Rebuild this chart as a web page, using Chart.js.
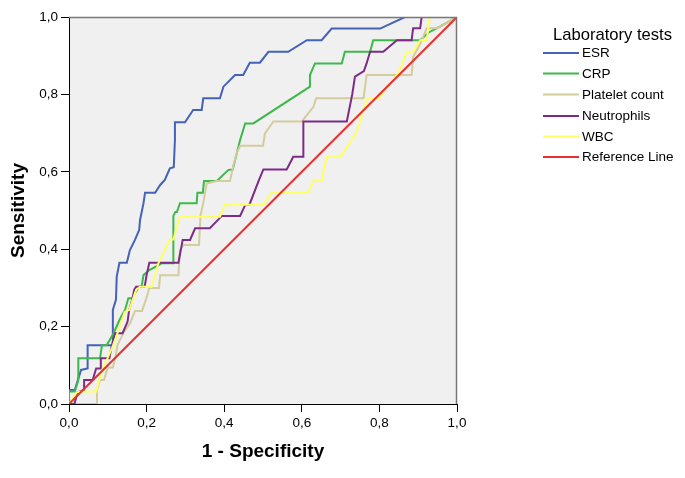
<!DOCTYPE html>
<html>
<head>
<meta charset="utf-8">
<script src="https://cdn.jsdelivr.net/npm/chart.js@4/dist/chart.umd.min.js"></script>
<style>
html,body{margin:0;padding:0;background:#fff;}
#wrap{position:relative;width:685px;height:478px;}
</style>
</head>
<body>
<div id="wrap"><canvas id="c" width="685" height="478"></canvas></div>
<script>
// ---- data (1 - specificity, sensitivity) ----
const esrX = [0,0,0.015,0.031,0.048,0.048,0.113,0.113,0.121,0.123,0.130,0.149,0.157,0.170,0.181,0.183,0.192,0.196,0.222,0.235,0.247,0.260,0.270,0.273,0.273,0.299,0.320,0.342,0.346,0.389,0.398,0.428,0.449,0.466,0.492,0.514,0.565,0.613,0.651,0.677,0.802,0.866,1];
const esrY = [0,0.036,0.036,0.088,0.092,0.152,0.152,0.243,0.269,0.329,0.365,0.365,0.398,0.424,0.450,0.475,0.519,0.546,0.546,0.566,0.579,0.609,0.612,0.682,0.728,0.728,0.760,0.760,0.790,0.790,0.820,0.850,0.850,0.882,0.882,0.910,0.910,0.940,0.940,0.970,0.970,1,1];

const crpX = [0,0,0.015,0.024,0.024,0.080,0.085,0.097,0.115,0.130,0.145,0.153,0.162,0.180,0.187,0.192,0.207,0.240,0.269,0.269,0.274,0.278,0.286,0.329,0.331,0.345,0.348,0.381,0.411,0.422,0.441,0.454,0.475,0.621,0.621,0.634,0.703,0.711,0.776,0.784,0.905,0.927,0.956,0.986,1];
const crpY = [0,0.032,0.032,0.062,0.118,0.118,0.152,0.152,0.183,0.217,0.245,0.273,0.273,0.303,0.303,0.333,0.346,0.364,0.364,0.486,0.496,0.496,0.519,0.519,0.546,0.546,0.576,0.576,0.605,0.606,0.682,0.725,0.725,0.820,0.850,0.880,0.880,0.910,0.910,0.940,0.940,0.960,0.975,0.992,1];

const pltX = [0,0.072,0.072,0.080,0.090,0.100,0.113,0.120,0.125,0.140,0.158,0.170,0.188,0.198,0.207,0.232,0.235,0.282,0.286,0.295,0.335,0.339,0.346,0.355,0.381,0.415,0.424,0.432,0.441,0.500,0.505,0.527,0.600,0.630,0.637,0.759,0.767,0.883,0.887,0.905,0.922,0.950,1];
const pltY = [0,0,0.036,0.062,0.062,0.094,0.094,0.122,0.152,0.183,0.210,0.240,0.240,0.269,0.300,0.300,0.333,0.333,0.398,0.411,0.411,0.488,0.519,0.570,0.576,0.576,0.618,0.648,0.667,0.667,0.699,0.730,0.730,0.768,0.790,0.790,0.850,0.850,0.897,0.930,0.971,0.971,1];

const neuX = [0,0.014,0.022,0.039,0.039,0.061,0.070,0.082,0.082,0.104,0.110,0.119,0.138,0.151,0.155,0.164,0.168,0.173,0.195,0.200,0.207,0.282,0.293,0.312,0.325,0.363,0.394,0.441,0.454,0.465,0.490,0.501,0.561,0.578,0.604,0.604,0.716,0.730,0.737,0.760,0.767,0.776,0.810,0.845,0.883,0.887,0.905,0.909,1];
const neuY = [0,0,0.030,0.036,0.062,0.062,0.092,0.092,0.118,0.118,0.150,0.183,0.183,0.213,0.243,0.273,0.295,0.303,0.303,0.333,0.365,0.365,0.424,0.424,0.454,0.454,0.486,0.486,0.514,0.515,0.580,0.606,0.606,0.639,0.639,0.730,0.730,0.800,0.846,0.860,0.880,0.910,0.910,0.940,0.940,0.971,0.971,1,1];

const wbcX = [0,0.020,0.031,0.070,0.078,0.087,0.100,0.113,0.125,0.134,0.143,0.155,0.164,0.173,0.183,0.213,0.230,0.247,0.260,0.269,0.278,0.286,0.389,0.402,0.501,0.522,0.617,0.630,0.651,0.664,0.698,0.711,0.729,0.740,0.750,0.759,0.770,0.800,0.820,0.845,0.860,0.870,0.887,0.905,0.922,0.930,1];
const wbcY = [0,0.030,0.032,0.032,0.062,0.092,0.120,0.150,0.183,0.208,0.238,0.243,0.269,0.295,0.303,0.303,0.363,0.398,0.425,0.425,0.458,0.484,0.484,0.515,0.515,0.546,0.546,0.577,0.577,0.639,0.639,0.656,0.682,0.700,0.730,0.760,0.790,0.790,0.820,0.850,0.880,0.910,0.910,0.940,0.940,1,1];

const refX = [0,1];
const refY = [0,1];

const seriesNames = ["ESR","CRP","Platelet count","Neutrophils","WBC","Reference Line"];
const seriesColors = ["#4462b8","#3cb94a","#d3cc9c","#7d2c86","#ffff66","#e8302f"];
const tickLabels = ["0,0","0,2","0,4","0,6","0,8","1,0"];
const legendTitle = "Laboratory tests";
const xTitle = "1 - Specificity";
const yTitle = "Sensitivity";

function pts(xs, ys){ return xs.map((x,i)=>({x:x, y:ys[i]})); }
const allX = [esrX,crpX,pltX,neuX,wbcX,refX];
const allY = [esrY,crpY,pltY,neuY,wbcY,refY];

const datasets = seriesNames.map((n,i)=>({
  label:n,
  data:pts(allX[i], allY[i]),
  showLine:true,
  borderColor:seriesColors[i],
  backgroundColor:seriesColors[i],
  borderWidth:2,
  pointRadius:0,
  tension:0,
  order:6-i
}));

const FONT = "'Liberation Sans', Arial, sans-serif";

const bgPlugin = {
  id:'bg',
  beforeDraw(chart){
    const {ctx, chartArea:a} = chart;
    ctx.save();
    ctx.fillStyle='#fff';
    ctx.fillRect(0,0,chart.width,chart.height);
    ctx.fillStyle='#f0f0f0';
    ctx.fillRect(a.left,a.top,a.right-a.left,a.bottom-a.top);
    ctx.restore();
  },
  afterDraw(chart){
    const {ctx, chartArea:a} = chart;
    ctx.save();
    ctx.strokeStyle='#777';
    ctx.lineWidth=1.5;
    ctx.beginPath();
    ctx.moveTo(a.left, a.top+0.5);
    ctx.lineTo(a.right-0.5, a.top+0.5);
    ctx.lineTo(a.right-0.5, a.bottom);
    ctx.stroke();
    // legend
    ctx.fillStyle='#000';
    ctx.textBaseline='middle';
    ctx.textAlign='center';
    ctx.font="16.6px "+FONT;
    ctx.fillText(legendTitle, 612.5, 35);
    ctx.font="13.5px "+FONT;
    ctx.textAlign='left';
    const ys=[53,73.5,94.5,116,136.5,157];
    seriesNames.forEach((n,i)=>{
      ctx.strokeStyle=seriesColors[i];
      ctx.lineWidth=2;
      ctx.beginPath();
      ctx.moveTo(543, ys[i]);
      ctx.lineTo(579, ys[i]);
      ctx.stroke();
      ctx.fillText(n, 582, ys[i]+0.5);
    });
    ctx.restore();
  }
};

const tickFmt = v => { const k = Math.round(v*5); return (k>=0 && k<=5 && Math.abs(v*5-k)<1e-6) ? tickLabels[k] : ''; };

new Chart(document.getElementById('c'), {
  type:'scatter',
  data:{datasets},
  plugins:[bgPlugin],
  options:{
    responsive:false,
    animation:false,
    layout:{padding:{left:0,right:228,top:17,bottom:0}},
    plugins:{legend:{display:false}, tooltip:{enabled:false}},
    scales:{
      x:{
        type:'linear', min:0, max:1,
        afterFit(s){ s.height = 74; },
        ticks:{stepSize:0.2, callback:tickFmt, color:'#000', font:{family:FONT, size:13.5}, padding:3, maxRotation:0},
        grid:{drawOnChartArea:false, drawTicks:true, tickLength:8, color:'#000', lineWidth:1},
        border:{display:true, color:'#000', width:1},
        title:{display:true, text:xTitle, color:'#000', font:{family:FONT, size:19, weight:'bold'}, padding:{top:0,bottom:15}}
      },
      y:{
        type:'linear', min:0, max:1,
        afterFit(s){ s.width = 69; },
        ticks:{stepSize:0.2, callback:tickFmt, color:'#000', font:{family:FONT, size:13.5}, padding:3},
        grid:{drawOnChartArea:false, drawTicks:true, tickLength:8, color:'#000', lineWidth:1},
        border:{display:true, color:'#000', width:1},
        title:{display:true, text:yTitle, color:'#000', font:{family:FONT, size:19, weight:'bold'}, padding:{top:7,bottom:0}}
      }
    }
  }
});
</script>
</body>
</html>
